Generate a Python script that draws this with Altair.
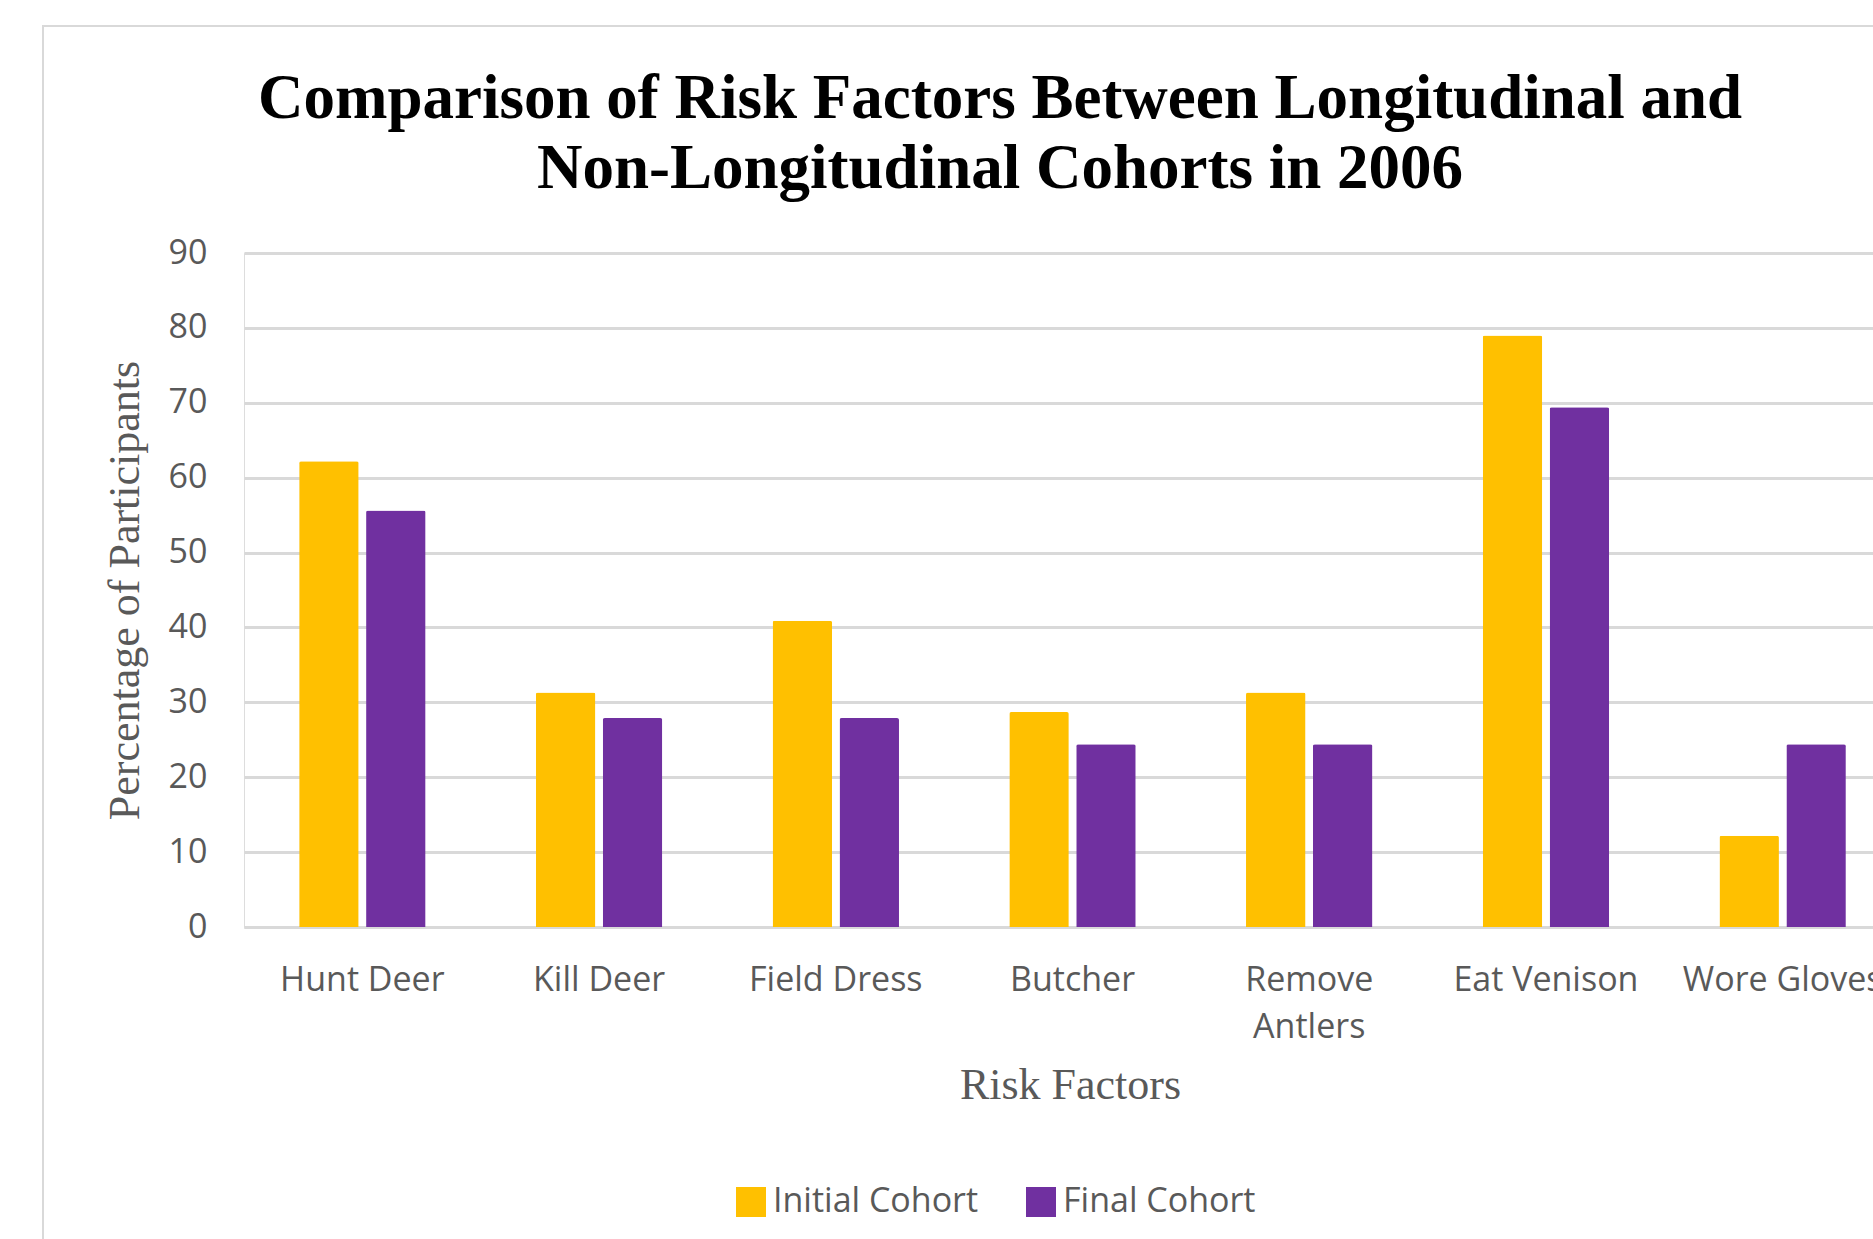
import altair as alt
import pandas as pd

# Risk factors reported in 2006, percentage of participants per cohort
factors = ["Hunt Deer", "Kill Deer", "Field Dress", "Butcher",
           "Remove Antlers", "Eat Venison", "Wore Gloves"]
initial_cohort = [62.2, 31.3, 40.9, 28.7, 31.3, 79.0, 12.2]
final_cohort = [55.6, 27.9, 27.9, 24.4, 24.4, 69.4, 24.4]
cohorts = ["Initial Cohort", "Final Cohort"]
cohort_colors = ["#FFC000", "#7030A0"]
y_ticks = [0, 10, 20, 30, 40, 50, 60, 70, 80, 90]

rows = []
for f, a, b in zip(factors, initial_cohort, final_cohort):
    rows.append({"factor": f, "cohort": cohorts[0], "pct": a})
    rows.append({"factor": f, "cohort": cohorts[1], "pct": b})
df = pd.DataFrame(rows)

LABEL_FONT = "Open Sans"
SERIF = "Liberation Serif"
GREY = "#595959"
GRID = "#d9d9d9"

bars = alt.Chart(df).mark_bar(
    cornerRadiusTopLeft=2, cornerRadiusTopRight=2
).encode(
    x=alt.X(
        "factor:N",
        sort=factors,
        scale=alt.Scale(range=[0, 1657], paddingInner=0.466, paddingOuter=0.233),
        axis=alt.Axis(
            title="Risk Factors",
            titleFont=SERIF, titleFontSize=44, titleFontWeight="normal",
            titleColor=GREY, titleX=826, titleY=158, titleBaseline="middle",
            labelFont=LABEL_FONT, labelFontSize=34, labelColor=GREY,
            labelAngle=0, labelPadding=36, labelLineHeight=47, labelLimit=0,
            labelExpr="datum.label == 'Remove Antlers' ? ['Remove', 'Antlers'] : datum.label",
            ticks=False, tickSize=0,
            domain=True, domainColor=GRID, domainWidth=3,
            grid=False,
        ),
    ),
    xOffset=alt.XOffset(
        "cohort:N", sort=cohorts,
        scale=alt.Scale(paddingInner=0.111, paddingOuter=0),
    ),
    y=alt.Y(
        "pct:Q",
        scale=alt.Scale(domain=[0, 90], nice=False),
        axis=alt.Axis(
            title="Percentage of Participants",
            titleFont=SERIF, titleFontSize=44, titleFontWeight="normal",
            titleColor=GREY, titleX=-119, titleY=337, titleAngle=270,
            titleBaseline="middle",
            values=y_ticks,
            labelFont=LABEL_FONT, labelFontSize=34, labelColor=GREY,
            labelPadding=37,
            ticks=False, tickSize=0, domain=False,
            grid=True, gridColor=GRID, gridWidth=3,
        ),
    ),
    color=alt.Color(
        "cohort:N",
        sort=cohorts,
        scale=alt.Scale(domain=cohorts, range=cohort_colors),
        legend=alt.Legend(
            title=None, orient="none", direction="horizontal", columns=2,
            legendX=490, legendY=932,
            symbolType="square", symbolSize=900, symbolStrokeWidth=0,
            symbolOpacity=1,
            labelFont=LABEL_FONT, labelFontSize=34, labelColor=GREY,
            labelLimit=0, labelOffset=5, columnPadding=45,
        ),
    ),
)

# thin outer border of the chart box
frame = alt.Chart(alt.Data(values=[{}])).mark_rect(
    filled=False, stroke=GRID, strokeWidth=2
).encode(
    x=alt.value(-201), x2=alt.value(1713),
    y=alt.value(-227), y2=alt.value(1000),
)

chart = alt.layer(frame, bars).properties(
    width=1629,
    height=674,
    autosize=alt.AutoSizeParams(type="none"),
    padding={"left": 244, "top": 253, "right": 0, "bottom": 312},
    title=alt.TitleParams(
        text=["Comparison of Risk Factors Between Longitudinal and",
              "Non-Longitudinal Cohorts in 2006"],
        font=SERIF, fontSize=63, fontWeight="bold", color="black",
        lineHeight=70, anchor="middle", frame="bounds", offset=-176,
    ),
).configure_view(stroke=None).configure(background="white")

chart.save("out.html", embed_options={"renderer": "svg", "actions": False})
